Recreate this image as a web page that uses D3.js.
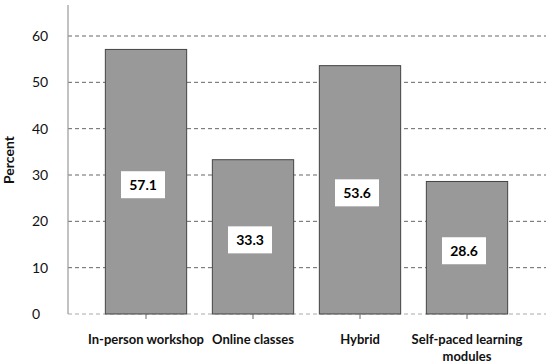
<!DOCTYPE html>
<html lang="en">
<head>
    <meta charset="UTF-8">
    <title>Percent by format</title>
    <script src="https://d3js.org/d3.v7.min.js"></script>
    <style>
        body{
            margin: 0;
            background: white;
            font-family: Lato, "Open Sans", sans-serif;
        }
        svg{
            display: block;
        }
    </style>
</head>
<body>
<svg></svg>
<script>
    const categories = ['In-person workshop', 'Online classes', 'Hybrid', 'Self-paced learning modules'];
    const percents = [57.1, 33.3, 53.6, 28.6];
    const yTicks = [0, 10, 20, 30, 40, 50, 60];

    const width = 550, height = 364;
    const svg = d3.select('svg')
        .attr('width', width)
        .attr('height', height);

    /* scales */
    const x = d3.scaleBand()
        .domain(categories)
        .range([92.5, 520.5])
        .paddingInner(0.24)
        .paddingOuter(0.12);
    const y = d3.scaleLinear()
        .domain([0, 60])
        .range([314, 36]);

    const axisLeft = 68, axisRight = 546;

    /* dashed gridlines */
    svg.selectAll('.grid')
        .data(yTicks)
        .enter().append('line')
        .attr('x1', axisLeft)
        .attr('x2', axisRight)
        .attr('y1', d => y(d))
        .attr('y2', d => y(d))
        .attr('stroke', d => d === 0 ? '#aaa' : '#666')
        .attr('stroke-width', 1)
        .attr('stroke-dasharray', '4,3');

    /* y axis line */
    svg.append('line')
        .attr('x1', axisLeft).attr('x2', axisLeft)
        .attr('y1', 5).attr('y2', y(0))
        .attr('stroke', '#999')
        .attr('stroke-width', 1.2);

    /* y tick labels (left aligned like the original) */
    svg.selectAll('.ylab')
        .data(yTicks)
        .enter().append('text')
        .attr('x', 32)
        .attr('y', d => y(d))
        .attr('dy', '0.35em')
        .attr('font-size', 14)
        .attr('fill', '#111')
        .text(d => d);

    svg.append('text')
        .attr('transform', 'translate(14,160) rotate(-90)')
        .attr('text-anchor', 'middle')
        .attr('font-size', 14)
        .attr('font-weight', 'bold')
        .attr('fill', '#111')
        .text('Percent');

    /* bars */
    svg.selectAll('.bar')
        .data(percents)
        .enter().append('rect')
        .attr('x', (d, i) => x(categories[i]))
        .attr('y', d => y(d))
        .attr('width', x.bandwidth())
        .attr('height', d => y(0) - y(d))
        .attr('fill', '#999')
        .attr('stroke', '#444')
        .attr('stroke-width', 1);

    /* x ticks */
    svg.selectAll('.xtick')
        .data(categories)
        .enter().append('line')
        .attr('x1', d => x(d) + x.bandwidth() / 2)
        .attr('x2', d => x(d) + x.bandwidth() / 2)
        .attr('y1', y(0))
        .attr('y2', y(0) + 5)
        .attr('stroke', '#666');

    /* value labels in white boxes */
    const boxW = 44, boxH = 27;
    const labels = svg.selectAll('.vlab')
        .data(percents)
        .enter().append('g')
        .attr('transform', (d, i) => {
            const cx = x(categories[i]) + x.bandwidth() / 2 - 3;
            const cy = (y(d) + y(0)) / 2 + 3;
            return `translate(${cx},${cy})`;
        });
    labels.append('rect')
        .attr('x', -boxW / 2)
        .attr('y', -boxH / 2)
        .attr('width', boxW)
        .attr('height', boxH)
        .attr('fill', 'white');
    labels.append('text')
        .attr('text-anchor', 'middle')
        .attr('dy', '0.36em')
        .attr('font-size', 14)
        .attr('font-weight', 'bold')
        .attr('fill', '#000')
        .text(d => d.toFixed(1));

    /* category labels, wrapped where the original wraps */
    const wrapped = {'Self-paced learning modules': ['Self-paced learning', 'modules']};
    svg.selectAll('.xlab')
        .data(categories)
        .enter().append('text')
        .attr('x', d => x(d) + x.bandwidth() / 2)
        .attr('y', 344)
        .attr('text-anchor', 'middle')
        .attr('font-size', 13)
        .attr('font-weight', 'bold')
        .attr('fill', '#111')
        .each(function(d){
            const lines = wrapped[d] || [d];
            d3.select(this).selectAll('tspan')
                .data(lines)
                .enter().append('tspan')
                .attr('x', x(d) + x.bandwidth() / 2)
                .attr('dy', (l, i) => i === 0 ? 0 : 17)
                .text(l => l);
        });
</script>
</body>
</html>
